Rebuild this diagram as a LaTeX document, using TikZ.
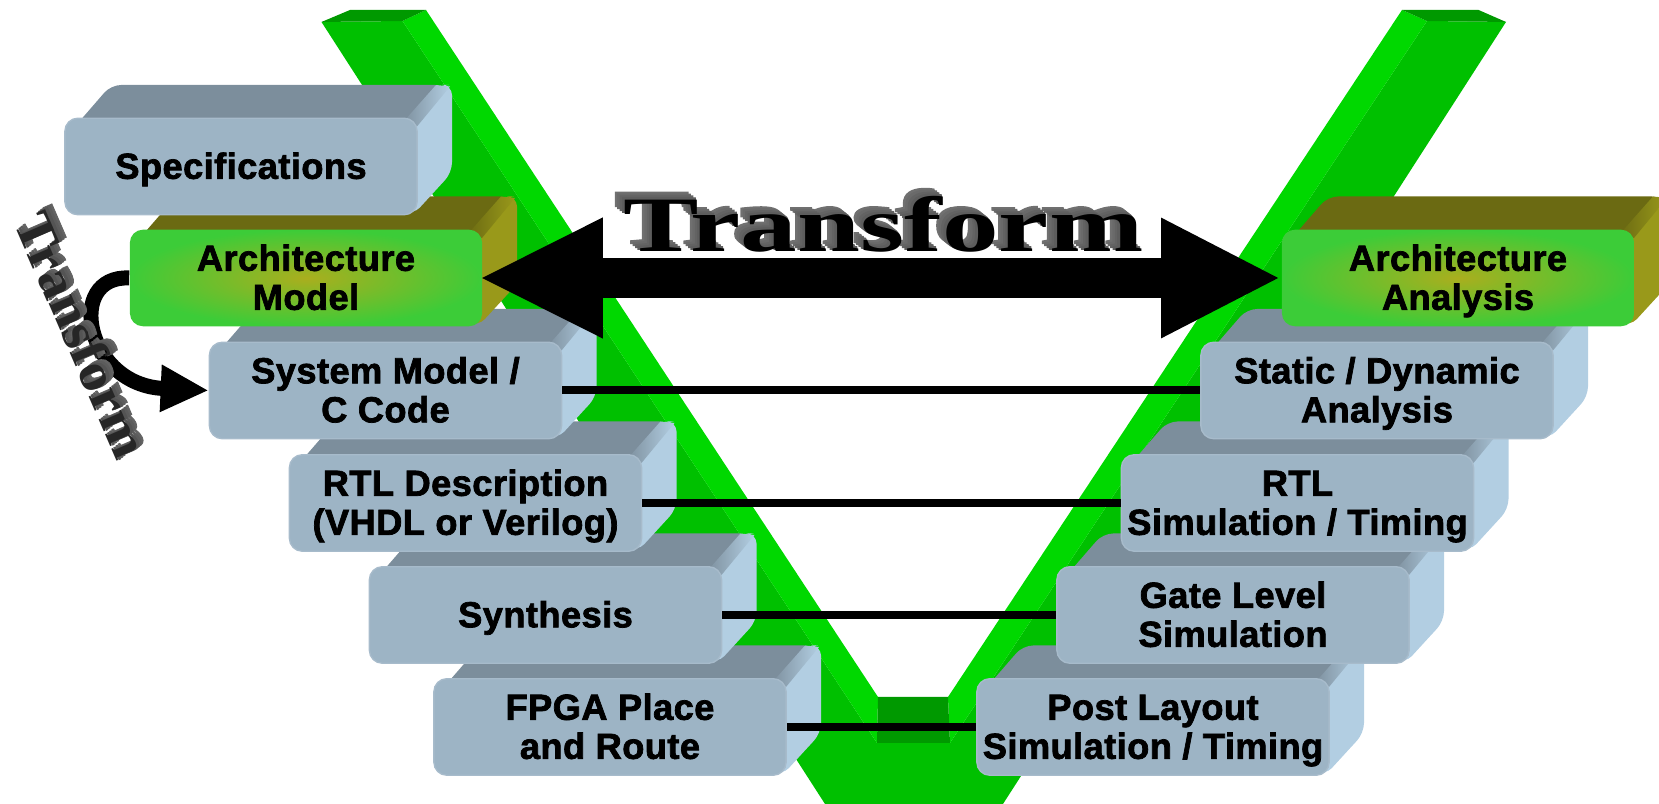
\documentclass[tikz,border=0pt]{standalone}
\usepackage{fontspec}
\usepackage{tikz}
\usetikzlibrary{arrows.meta}
\usetikzlibrary{positioning}
\newfontfamily\slabfont[BoldFeatures={FakeBold=2,LetterSpace=1.2}]{Liberation Sans}
\newfontfamily\bannerfont{Liberation Serif}
\newfontfamily\bannerthick[BoldFeatures={FakeBold=1.5}]{Liberation Serif}
\definecolor{blueTop}{HTML}{7C8E9C}
\definecolor{blueSide}{HTML}{B2CEE2}
\definecolor{blueFront}{HTML}{9DB4C5}
\definecolor{archTop}{HTML}{6B6A12}
\definecolor{archSide}{HTML}{99991A}
\definecolor{archOuter}{HTML}{3CCC38}
\definecolor{archInner}{HTML}{AAAE1E}
\definecolor{vBright}{HTML}{00D800}
\definecolor{vMid}{HTML}{00C000}
\definecolor{vDark}{HTML}{009900}
% one block: hull, top face, then the front node
\newcommand{\slab}[5]{
  \begin{scope}[shift={(#2,#3)}]
    \fill[#4Side,rounded corners=.1cm] (150,-30) -- (198,-81.5) -- (211,-81.5) -- (211,6) -- (172,48.5) -- (150,40) -- cycle;
    \fill[#4Top,rounded corners=.1cm] (-166,-40) -- (-130,-81.5) -- (204,-81.5) -- (165,-40) -- cycle;
    \shade[left color=#4Top,right color=#4Side] (160,-42) -- (195,-81.5) -- (209,-80) -- (176,-40) -- cycle;
  \end{scope}
  \node[#4front] (#1) at (#2,#3) {\rule{0pt}{\dimexpr\ht\strutbox+.09cm\relax}#5\strut};
}
\begin{document}
\begin{tikzpicture}[x=.01cm,y=-.01cm]
\tikzstyle{bluefront}=[fill=blueFront,draw=blueFront!90!white,slabbase]
\tikzstyle{archfront}=[inner color=archInner,outer color=archOuter,slabbase]
\tikzstyle{slabbase}=[rounded corners=.13cm,minimum width=3.52cm,minimum height=.965cm,inner sep=0pt,align=center,font=\slabfont\bfseries\fontsize{10.3}{11.1}\selectfont]
\tikzstyle{rung}=[line width=.08cm]
\tikzstyle{bigarrow}=[line width=.40cm,shorten <=-.04cm,{Triangle[length=1.24cm,width=1.11cm]}-{Triangle[length=1.2cm,width=1.11cm]}]
\tikzstyle{loopback}=[line width=.15cm,-{Triangle[length=.48cm,width=.44cm]}]
\tikzstyle{banner}=[xscale=1.444,transform shape,font=\bannerfont\bfseries\fontsize{22.3}{24}\selectfont]
\tikzstyle{bannerdepth}=[xscale=1.444,transform shape,font=\bannerthick\bfseries\fontsize{22.3}{24}\selectfont]
\tikzstyle{sidebanner}=[rotate=-66.6,xscale=1.08,transform shape,font=\bannerfont\bfseries\fontsize{15}{16}\selectfont]
\tikzstyle{sidedepth}=[rotate=-66.6,xscale=1.08,transform shape,font=\bannerthick\bfseries\fontsize{15}{16}\selectfont]
\useasboundingbox (0,0) rectangle (1659,804);
% the V
\fill[vMid] (321.5,22) -- (402.5,21) -- (877,743) -- (950,743) -- (1427,21) -- (1506,22) -- (1003,804) -- (825,804) -- cycle;
\fill[vBright] (402.5,21) -- (426,10) -- (878,697) -- (877,743) -- cycle;
\fill[vBright] (1427,21) -- (1402,10) -- (948,697) -- (950,743) -- cycle;
\fill[vDark] (878,697) -- (948,697) -- (950,743) -- (877,743) -- cycle;
\fill[vDark] (321.5,22) -- (350,10) -- (426,10) -- (402.5,21) -- cycle;
\fill[vDark] (1506,22) -- (1478.6,10) -- (1402,10) -- (1427,21) -- cycle;
% blocks, lowest first
\foreach \nm/\x/\y/\lbl in {
  FpgaRoute/610/727/{FPGA Place\\and Route},
  Synthesis/545.5/615/{Synthesis},
  RtlDesc/465.5/503/{RTL Description\\(VHDL or Verilog)},
  SystemModel/385.5/390.5/{System Model /\\C Code},
  PostLayout/1153/727/{Post Layout\\Simulation / Timing},
  GateLevel/1233/615/{Gate Level\\Simulation},
  RtlSim/1297.5/503/{RTL\\Simulation / Timing},
  StaticDyn/1377/390.5/{Static / Dynamic\\Analysis}}
  {\slab{\nm}{\x}{\y}{blue}{\lbl}}
\slab{ArchModel}{306}{278}{arch}{Architecture\\Model}
\slab{ArchAnalysis}{1458}{278}{arch}{Architecture\\Analysis}
\slab{Specs}{241}{166.5}{blue}{Specifications}
% connectors
\draw[rung] (FpgaRoute.east) -- (PostLayout.west);
\draw[rung] (Synthesis.east) -- (GateLevel.west);
\draw[rung] (RtlDesc.east) -- (RtlSim.west);
\draw[rung] (SystemModel.east) -- (StaticDyn.west);
\draw[bigarrow] (ArchModel.east) -- (ArchAnalysis.west);
\draw[loopback] (ArchModel.west) .. controls (65,275) and (85,385) .. (SystemModel.west);
% banner text, a few copies behind the face, farthest first
\foreach \i in {4,3,2,1}{
  \pgfmathsetmacro{\gr}{66-\i*2.5}
  \node[text=black!\gr,bannerdepth] (BannerT\i) at (883.5-\i*2.4,224-\i*1.9) {Transform};
}
\node[text=black,banner] (Banner) at (883.5,224) {Transform};
\foreach \i in {3,2,1}{
  \pgfmathsetmacro{\gr}{70-\i*3}
  \node[text=black!\gr,sidedepth] (SideT\i) at (82+\i*2.2,335-\i*1.8) {Transform};
}
\node[text=black!85,sidebanner] (Side) at (82,335) {Transform};
\end{tikzpicture}
\end{document}
